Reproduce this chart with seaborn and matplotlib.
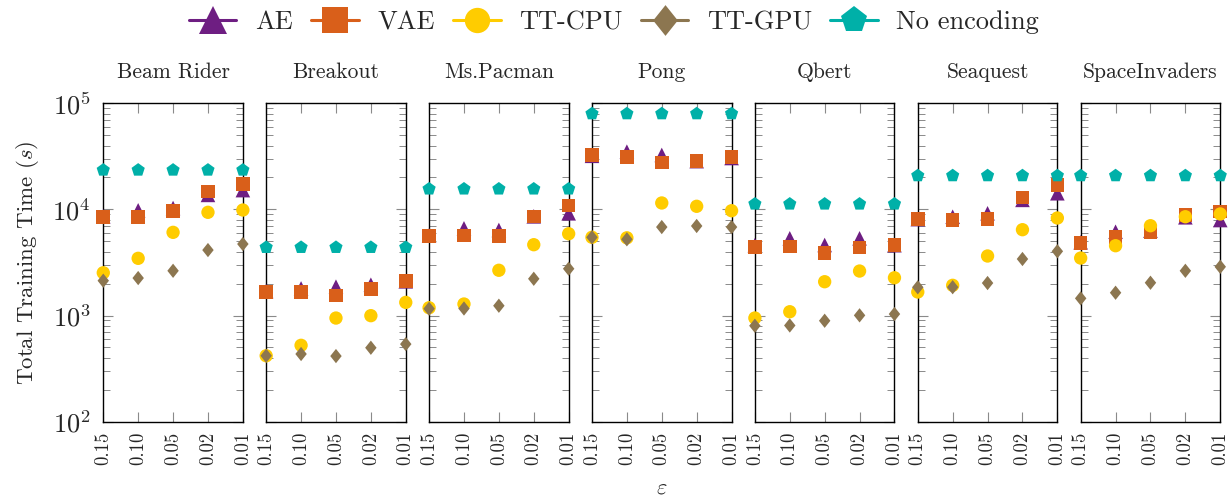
import numpy as np
import pandas as pd
import matplotlib
matplotlib.use("Agg")
import matplotlib.pyplot as plt
from matplotlib.lines import Line2D
from matplotlib.ticker import LogLocator, NullFormatter, FixedLocator
import seaborn as sns

# ---------------- data ----------------
eps = ['0.15', '0.10', '0.05', '0.02', '0.01']
games = ['Beam Rider', 'Breakout', 'Ms.Pacman', 'Pong', 'Qbert', 'Seaquest', 'SpaceInvaders']
methods = ['AE', 'VAE', 'TT-CPU', 'TT-GPU', 'No encoding']

ae = [
    [8600, 9800, 10300, 13700, 15200],
    [1700, 1800, 1870, 1950, 2100],
    [5700, 6630, 6400, 8600, 9190],
    [32000, 35000, 32600, 28500, 30500],
    [4600, 5340, 4620, 5340, 4600],
    [8100, 8530, 9190, 12300, 14200],
    [4900, 6160, 6300, 8430, 7940],
]
vae = [
    [8530, 8500, 9660, 14700, 17300],
    [1670, 1660, 1540, 1780, 2110],
    [5650, 5680, 5650, 8610, 10900],
    [32400, 31200, 27600, 28600, 31000],
    [4420, 4490, 3860, 4390, 4620],
    [8120, 7950, 8070, 12900, 16900],
    [4850, 5530, 6160, 8850, 9520],
]
tt_cpu = [
    [2530, 3460, 6080, 9390, 9870],
    [418, 524, 947, 997, 1330],
    [1184, 1284, 2670, 4650, 5900],
    [5460, 5400, 11500, 10700, 9720],
    [948, 1086, 2083, 2626, 2270],
    [1666, 1926, 3640, 6440, 8300],
    [3480, 4550, 7020, 8530, 9060],
]
tt_gpu = [
    [2130, 2255, 2640, 4140, 4720],
    [418, 434, 415, 497, 538],
    [1159, 1165, 1237, 2220, 2760],
    [5460, 5230, 6820, 6980, 6820],
    [801, 806, 893, 1004, 1033],
    [1845, 1850, 2024, 3410, 4030],
    [1452, 1640, 2037, 2640, 2880],
]
no_encoding = [
    [23500, 23500, 23500, 23500, 23500],
    [4390, 4390, 4390, 4390, 4390],
    [15600, 15600, 15600, 15600, 15600],
    [79800, 79800, 79800, 79800, 79800],
    [11250, 11250, 11250, 11250, 11250],
    [20800, 20800, 20800, 20800, 20800],
    [20800, 20800, 20800, 20800, 20800],
]

# ---------------- styling ----------------
sns.set_style("white")
plt.rcParams['font.family'] = ['cmr10', 'DejaVu Serif']
plt.rcParams['mathtext.fontset'] = 'cm'
plt.rcParams['axes.formatter.use_mathtext'] = True
plt.rcParams['axes.unicode_minus'] = False

colors = {'AE': '#6E1E82', 'VAE': '#D95F1A', 'TT-CPU': '#FFCC00',
          'TT-GPU': '#8C7650', 'No encoding': '#00B0A8'}
diamond = [(0, 1), (0.8, 0), (0, -1), (-0.8, 0), (0, 1)]
markers = {'AE': '^', 'VAE': 's', 'TT-CPU': 'o', 'TT-GPU': diamond, 'No encoding': 'p'}
msizes = {'AE': 10.5, 'VAE': 9.8, 'TT-CPU': 9.6, 'TT-GPU': 10.3, 'No encoding': 10.0}
lscale = {'AE': 1.9, 'VAE': 1.9, 'TT-CPU': 1.9, 'TT-GPU': 2.15, 'No encoding': 2.0}
series = {'AE': ae, 'VAE': vae, 'TT-CPU': tt_cpu, 'TT-GPU': tt_gpu, 'No encoding': no_encoding}

rows = []
for m in methods:
    for gi, g in enumerate(games):
        for ei, e in enumerate(eps):
            rows.append({'game': g, 'method': m, 'eps': e, 'time': series[m][gi][ei]})
df = pd.DataFrame(rows)

fig, axes = plt.subplots(1, 7, figsize=(12.28, 4.99), dpi=100, sharey=True)
fig.subplots_adjust(left=0.0841, right=0.9937, top=0.793, bottom=0.155, wspace=0.167)

tick_gray = '#8a8a8a'
for gi, (ax, g) in enumerate(zip(axes, games)):
    ax.set_yscale('log')
    sub = df[df['game'] == g]
    for zi, m in enumerate(methods):
        d = sub[sub['method'] == m]
        sns.scatterplot(data=d, x='eps', y='time', ax=ax, marker=markers[m],
                        s=msizes[m] ** 2, color=colors[m], edgecolor='none',
                        linewidth=0, clip_on=False, zorder=3 + zi, legend=False)
    ax.set_xlim(0, 4)
    ax.set_ylim(100, 100000)
    ax.set_xticks(range(5))
    ax.set_xticklabels(eps, rotation=90, fontsize=13.5)
    ax.set_xlabel('')
    ax.set_ylabel('')
    ax.set_title(g, fontsize=15.5, pad=18)
    ax.yaxis.set_major_locator(FixedLocator([1e2, 1e3, 1e4, 1e5]))
    ax.yaxis.set_minor_locator(LogLocator(base=10, subs=np.arange(2, 10), numticks=20))
    ax.yaxis.set_minor_formatter(NullFormatter())
    ax.tick_params(axis='x', which='major', direction='in', top=True, bottom=True,
                   length=7, width=0.8, color=tick_gray, pad=7, labelsize=13.5)
    ax.tick_params(axis='y', which='major', direction='in', left=True, right=True,
                   length=7, width=0.8, color=tick_gray, pad=9, labelsize=19)
    ax.tick_params(axis='y', which='minor', direction='in', left=True, right=True,
                   length=5, width=0.7, color=tick_gray)
    ax.grid(False)
    for sp in ax.spines.values():
        sp.set_color('black')
        sp.set_linewidth(1.0)
        sp.set_zorder(2)
    if gi > 0:
        ax.tick_params(axis='y', which='both', labelleft=False)

axes[0].set_ylabel('Total Training Time ($s$)', fontsize=16.5, labelpad=8)

handles = [Line2D([0], [0], color=colors[m], lw=2.2, marker=markers[m],
                  markersize=msizes[m] * lscale[m], markeredgewidth=0)
           for m in methods]
fig.legend(handles, methods, loc='center', bbox_to_anchor=(0.5, 0.955), ncol=5,
           frameon=False, fontsize=19, handlelength=1.8, handletextpad=0.7,
           columnspacing=0.7)

fig.text(661.8 / 1228, 1 - 488 / 499, r'$\varepsilon$', ha='center', va='center', fontsize=16)

fig.savefig('out.png', dpi=100)
